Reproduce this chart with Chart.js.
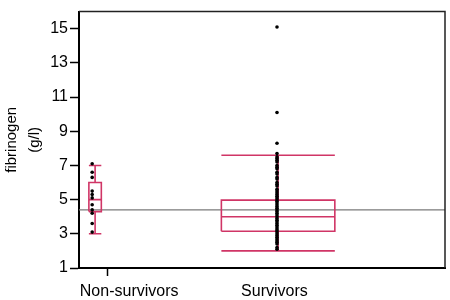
<!DOCTYPE html>
<html>
<head>
<meta charset="utf-8">
<script src="https://cdn.jsdelivr.net/npm/chart.js@4/dist/chart.umd.min.js"></script>
<style>
  html, body { margin: 0; padding: 0; background: #fff; }
  #wrap { width: 450px; height: 300px; }
</style>
</head>
<body>
<div id="wrap"><canvas id="grafico"></canvas></div>
<script>
// grupos y posiciones en el eje x (escala 0..1)
var grupos = ['Non-survivors', 'Survivors'];
var centroCaja = [0.044, 0.544];
var anchoCaja = [0.017, 0.155];
var xPuntos = [0.036, 0.541];
var xEtiquetas = [0.137, 0.534];
var xMarca = 0.079;

// cajas: bigote inferior, q1, mediana, q3, bigote superior
var bigoteInf = [3.0, 2.0];
var q1 = [4.3, 3.15];
var mediana = [5.0, 4.0];
var q3 = [6.0, 4.97];
var bigoteSup = [7.0, 7.6];

var noSobrevivientes = [7.1, 6.6, 6.3, 5.5, 5.3, 5.1, 4.7, 4.4, 4.2, 3.6, 3.1];
var sobrevivientes = [15.1, 10.1, 8.3, 7.7, 7.5, 7.4, 7.3, 7.2, 7.0, 6.9, 6.8, 6.6, 6.5, 6.3,
    6.2, 6.0, 5.9, 5.8, 5.6, 5.5, 5.4, 5.3, 5.2, 5.1, 5.0, 4.9, 4.8, 4.7, 4.6, 4.5, 4.4, 4.3,
    4.2, 4.1, 4.0, 3.9, 3.8, 3.7, 3.6, 3.5, 3.4, 3.3, 3.2, 3.1, 3.0, 2.9, 2.8, 2.7, 2.6,
    2.5, 2.4, 2.2, 2.1];
var valorReferencia = 4.4;

var colorCaja = '#d03566';

function puntosCaja(i) {
    var a = centroCaja[i] - anchoCaja[i], b = centroCaja[i] + anchoCaja[i], c = centroCaja[i];
    return [
        {x: a, y: q1[i]}, {x: b, y: q1[i]}, {x: b, y: q3[i]}, {x: a, y: q3[i]}, {x: a, y: q1[i]}, {x: a, y: null},
        {x: a, y: mediana[i]}, {x: b, y: mediana[i]}, {x: b, y: null},
        {x: a, y: bigoteInf[i]}, {x: b, y: bigoteInf[i]}, {x: b, y: null},
        {x: a, y: bigoteSup[i]}, {x: b, y: bigoteSup[i]}, {x: b, y: null},
        {x: c, y: bigoteInf[i]}, {x: c, y: q1[i]}, {x: c, y: null},
        {x: c, y: q3[i]}, {x: c, y: bigoteSup[i]}
    ];
}

var marco = {
    id: 'marco',
    afterDraw: function (chart) {
        var a = chart.chartArea, ctx = chart.ctx;
        ctx.save();
        ctx.strokeStyle = '#222';
        ctx.lineWidth = 1.5;
        ctx.beginPath();
        ctx.moveTo(a.left, a.top);
        ctx.lineTo(a.right, a.top);
        ctx.lineTo(a.right, a.bottom);
        ctx.stroke();
        ctx.restore();
    }
};

var ctx = document.getElementById('grafico');
var myChart = new Chart(ctx, {
    type: 'scatter',
    data: {
        datasets: [{
            label: grupos[0],
            data: noSobrevivientes.map(function (v) { return {x: xPuntos[0], y: v}; }),
            backgroundColor: '#000',
            borderWidth: 0,
            pointRadius: 1.8,
            order: 0
        }, {
            label: grupos[1],
            data: sobrevivientes.map(function (v) { return {x: xPuntos[1], y: v}; }),
            backgroundColor: '#000',
            borderWidth: 0,
            pointRadius: 1.8,
            order: 0
        }, {
            type: 'line',
            data: puntosCaja(0),
            borderColor: colorCaja,
            borderWidth: 1.6,
            pointRadius: 0,
            spanGaps: false,
            order: 1
        }, {
            type: 'line',
            data: puntosCaja(1),
            borderColor: colorCaja,
            borderWidth: 1.6,
            pointRadius: 0,
            spanGaps: false,
            order: 1
        }, {
            type: 'line',
            data: [{x: 0, y: valorReferencia}, {x: 1, y: valorReferencia}],
            borderColor: '#7a7a7a',
            borderWidth: 1.3,
            pointRadius: 0,
            order: 2
        }]
    },
    options: {
        animation: false,
        maintainAspectRatio: false,
        responsive: true,
        layout: { padding: { left: 0, top: 4, right: 5, bottom: 0 } },
        plugins: {
            legend: { display: false },
            tooltip: { enabled: false }
        },
        scales: {
            x: {
                type: 'linear',
                min: 0,
                max: 1,
                border: { color: '#000', width: 2 },
                grid: {
                    drawOnChartArea: false,
                    drawTicks: true,
                    tickLength: 8,
                    tickWidth: 1.5,
                    tickColor: function (c) { return c.index === 0 ? '#000' : 'rgba(0,0,0,0)'; }
                },
                afterBuildTicks: function (axis) {
                    axis.ticks = [{value: xMarca}, {value: xEtiquetas[0]}, {value: xEtiquetas[1]}];
                },
                afterFit: function (axis) { axis.height = 32; },
                ticks: {
                    autoSkip: false,
                    maxRotation: 0,
                    padding: 6,
                    color: '#000',
                    font: { family: 'Liberation Sans, Arial, sans-serif', size: 16 },
                    callback: function (v, i) { return i === 0 ? '' : grupos[i - 1]; }
                }
            },
            y: {
                min: 1,
                max: 16,
                border: { color: '#000', width: 2 },
                grid: {
                    drawOnChartArea: false,
                    drawTicks: true,
                    tickLength: 9,
                    tickWidth: 1.5,
                    tickColor: '#000'
                },
                afterFit: function (axis) { axis.width = 79; },
                ticks: {
                    stepSize: 1,
                    padding: 2,
                    color: '#000',
                    font: { family: 'Liberation Sans, Arial, sans-serif', size: 16 },
                    callback: function (v) { return v % 2 === 1 ? v : ''; }
                },
                title: {
                    display: true,
                    text: ['fibrinogen', '(g/l)'],
                    color: '#000',
                    padding: { top: 0, bottom: 0 },
                    font: { family: 'Liberation Sans, Arial, sans-serif', size: 15, lineHeight: 1.55 }
                }
            }
        }
    },
    plugins: [marco]
});
</script>
</body>
</html>
